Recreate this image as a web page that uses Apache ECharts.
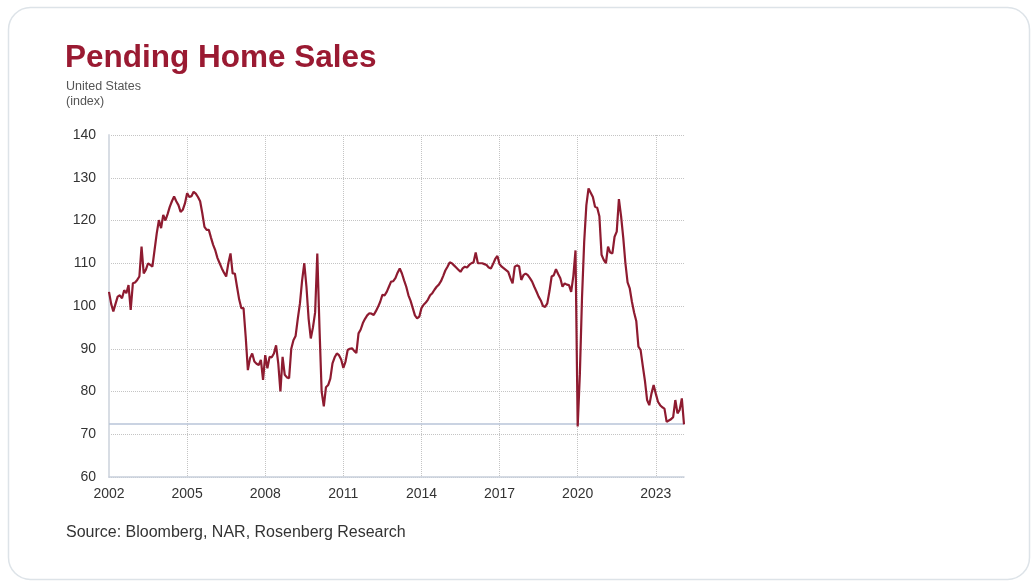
<!DOCTYPE html>
<html>
<head>
<meta charset="utf-8">
<script src="https://cdn.jsdelivr.net/npm/echarts@6.0.0/dist/echarts.min.js"></script>
<style>
  html, body { margin: 0; padding: 0; background: #ffffff; }
  #c { width: 1036px; height: 583px; }
</style>
</head>
<body>
<div id="c"></div>
<script>
// ---- Data (monthly index, Jan 2002 .. Feb 2024) ----
const startYear = 2002;
const values2002 = [103.3, 100.5, 98.7, 100.5, 102.2, 102.5, 101.8, 103.7, 103.0, 104.9, 99.1, 105.3];
const values2003 = [105.5, 106.1, 106.9, 113.9, 107.6, 108.5, 110.0, 109.6, 109.2, 113.1, 117.0, 120.1];
const values2004 = [118.2, 121.3, 120.0, 121.5, 123.2, 124.5, 125.6, 124.5, 123.6, 122.0, 122.5, 124.0];
const values2005 = [126.4, 125.5, 125.7, 126.7, 126.3, 125.5, 124.5, 121.7, 118.5, 117.8, 117.8, 116.0];
const values2006 = [114.3, 113.0, 111.2, 110.0, 108.8, 107.8, 106.9, 110.0, 112.3, 107.6, 107.6, 104.5];
const values2007 = [101.5, 99.5, 99.5, 92.8, 85.0, 87.8, 88.9, 87.0, 86.5, 86.2, 87.4, 82.7];
const values2008 = [88.5, 85.4, 88.1, 88.0, 88.9, 90.8, 86.6, 80.0, 88.1, 83.9, 83.3, 83.1];
const values2009 = [90.0, 92.0, 93.0, 97.0, 100.6, 106.0, 110.0, 104.5, 97.0, 92.4, 95.0, 98.5];
const values2010 = [112.3, 95.0, 80.0, 76.5, 81.0, 81.5, 83.0, 86.6, 88.0, 88.9, 88.5, 87.5];
const values2011 = [85.5, 87.0, 89.7, 90.0, 90.1, 89.5, 89.0, 93.6, 94.5, 96.0, 97.0, 97.8];
const values2012 = [98.3, 98.2, 97.9, 98.8, 99.8, 101.0, 102.6, 102.5, 103.3, 104.5, 105.7, 105.8];
const values2013 = [106.5, 107.8, 108.8, 107.6, 106.0, 104.5, 102.5, 101.2, 99.5, 97.8, 97.1, 97.5];
const values2014 = [99.5, 100.3, 100.8, 101.5, 102.5, 103.0, 103.8, 104.5, 105.0, 105.8, 107.0, 108.3];
const values2015 = [109.2, 110.2, 110.0, 109.5, 109.0, 108.5, 108.0, 108.8, 109.2, 109.0, 109.6, 110.0];
const values2016 = [110.2, 112.5, 110.0, 110.0, 110.0, 109.8, 109.6, 109.0, 108.8, 109.8, 111.0, 111.7];
const values2017 = [109.8, 109.2, 108.8, 108.4, 108.0, 106.5, 105.3, 109.2, 109.5, 109.3, 106.1, 107.2];
const values2018 = [107.6, 107.2, 106.5, 105.7, 104.5, 103.4, 102.2, 101.3, 100.0, 99.8, 100.6, 103.5];
const values2019 = [106.9, 107.2, 108.6, 107.5, 106.5, 104.5, 105.3, 105.0, 104.9, 103.3, 107.0, 113.0];
const values2020 = [71.8, 84.0, 102.0, 115.0, 123.6, 127.5, 126.5, 125.5, 123.2, 123.0, 121.0, 112.0];
const values2021 = [110.8, 110.0, 113.9, 112.5, 112.3, 116.2, 117.4, 125.0, 121.0, 116.0, 110.0, 105.5];
const values2022 = [104.1, 101.0, 98.5, 96.5, 90.5, 89.7, 86.0, 82.5, 78.0, 76.8, 79.5, 81.5];
const values2023 = [79.5, 77.6, 76.8, 76.3, 76.0, 72.9, 73.2, 73.5, 74.0, 78.0, 74.9, 75.7];
const values2024 = [78.4, 72.3];

const referenceLevel = 72.4;           // horizontal reference line
const yTicks = [60, 70, 80, 90, 100, 110, 120, 130, 140];

const titleText = 'Pending Home Sales';
const subtitle1 = 'United States';
const subtitle2 = '(index)';
const sourceText = 'Source: Bloomberg, NAR, Rosenberg Research';

// ---- Build ----
const values = [].concat(values2002, values2003, values2004, values2005, values2006,
  values2007, values2008, values2009, values2010, values2011, values2012, values2013,
  values2014, values2015, values2016, values2017, values2018, values2019, values2020,
  values2021, values2022, values2023, values2024);

const months = values.map((_, i) => {
  const y = startYear + Math.floor(i / 12);
  const m = (i % 12) + 1;
  return y + '-' + (m < 10 ? '0' + m : m);
});

const FONT = '"Liberation Sans", Arial, Helvetica, sans-serif';
const chart = echarts.init(document.getElementById('c'), null, { renderer: 'canvas' });

chart.setOption({
  animation: false,
  backgroundColor: '#ffffff',
  textStyle: { fontFamily: FONT },
  graphic: [
    {
      type: 'rect', z: -10, silent: true,
      shape: { x: 8.5, y: 7.5, width: 1021, height: 572, r: 22 },
      style: { fill: '#ffffff', stroke: '#dde3e8', lineWidth: 1.5 }
    },
    {
      type: 'text', x: 65, y: 58, silent: true,
      style: { text: titleText, fill: '#9a1a32', font: 'bold 31.5px ' + FONT, verticalAlign: 'middle' }
    },
    {
      type: 'text', x: 66, y: 87, silent: true,
      style: { text: subtitle1, fill: '#555555', font: '12.5px ' + FONT, verticalAlign: 'middle' }
    },
    {
      type: 'text', x: 66, y: 102, silent: true,
      style: { text: subtitle2, fill: '#555555', font: '12.5px ' + FONT, verticalAlign: 'middle' }
    },
    {
      type: 'text', x: 66, y: 533, silent: true,
      style: { text: sourceText, fill: '#333333', font: '16px ' + FONT, verticalAlign: 'middle' }
    }
  ],
  grid: { left: 109, right: 352, top: 135, bottom: 106 },
  xAxis: {
    type: 'category',
    data: months,
    boundaryGap: false,
    axisLine: { show: true, lineStyle: { color: '#c8d0dc', width: 1.5 } },
    axisTick: { show: false, interval: 35 },
    axisLabel: {
      interval: 35, color: '#333333', fontSize: 14, margin: 10,
      formatter: v => v.slice(0, 4)
    },
    splitLine: { show: true, interval: 35, lineStyle: { type: 'dotted', color: '#c4c4c4', width: 1 } }
  },
  yAxis: {
    type: 'value',
    min: yTicks[0], max: yTicks[yTicks.length - 1], interval: 10,
    axisLine: { show: true, lineStyle: { color: '#d8dde4', width: 2 } },
    axisTick: { show: false },
    axisLabel: { color: '#333333', fontSize: 14, margin: 13 },
    splitLine: { show: true, lineStyle: { type: 'dotted', color: '#c4c4c4', width: 1 } }
  },
  series: [{
    type: 'line',
    data: values,
    symbol: 'none',
    lineStyle: { color: '#8e1b30', width: 2.2 },
    z: 5,
    markLine: {
      silent: true,
      symbol: 'none',
      label: { show: false },
      lineStyle: { color: '#b9c5d8', type: 'solid', width: 1.5 },
      data: [{ yAxis: referenceLevel }],
      z: 3
    }
  }]
});
</script>
</body>
</html>
